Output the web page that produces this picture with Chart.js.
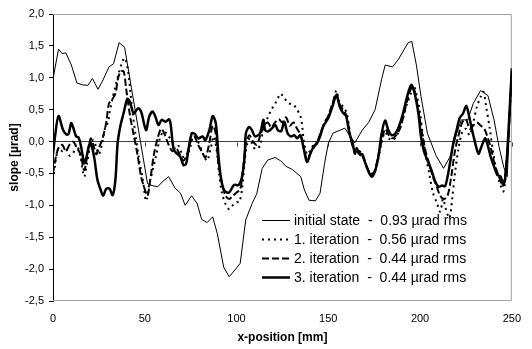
<!DOCTYPE html>
<html>
<head>
<meta charset="utf-8">
<script src="https://cdn.jsdelivr.net/npm/chart.js@4.4.0/dist/chart.umd.min.js"></script>
<style>
  html, body { margin: 0; padding: 0; background: #fff; }
  #wrap { width: 532px; height: 349px; position: relative; }
</style>
</head>
<body>
<div id="wrap"><canvas id="slope-chart"></canvas></div>
<script>
// slope profiles (x in mm, slope in µrad)
const initX = [0, 3, 5, 7, 10, 13, 16, 19, 21.5, 24.5, 27, 30.5, 33, 36, 39, 51.5, 54, 57, 60, 63, 66.5, 69.5, 72, 75.5, 78.5, 81, 84, 87, 89.5, 93, 96, 99.5, 102, 105, 108.5, 111, 114, 117, 121, 124, 127, 130.5, 135, 137, 139.5, 143, 145.5, 148, 150, 152.5, 159, 161.5, 164.5, 168.5, 172, 175.5, 179, 181, 185, 188, 193.5, 195.5, 198, 200.5, 204, 208.7, 212.8, 216.3, 220, 222.5, 226, 229, 233, 237, 240.3, 243, 245.6, 247.5, 250];
const initY = [0.98, 1.45, 1.38, 1.39, 1.2, 0.92, 0.89, 0.88, 0.99, 0.82, 0.95, 1.17, 1.22, 1.55, 1.48, -0.66, -0.69, -0.71, -0.62, -0.55, -0.73, -0.81, -1.0, -0.85, -0.97, -1.22, -1.27, -1.18, -1.44, -1.97, -2.12, -2.0, -1.91, -1.23, -0.97, -0.82, -0.42, -0.29, -0.25, -0.3, -0.39, -0.44, -0.55, -0.76, -0.92, -0.93, -0.81, -0.34, -0.03, 0.13, 0.21, 0.1, -0.02, 0.18, 0.3, 0.5, 0.97, 1.2, 1.17, 1.28, 1.55, 1.57, 1.2, 0.71, 0.13, -0.22, -0.42, -0.24, 0.13, 0.34, 0.34, 0.6, 0.8, 0.72, 0.34, -0.08, -0.4, -0.55, 1.08];

const it1X = [0, 1.5, 3, 5, 7, 9, 11, 13, 15, 17, 18.5, 20.5, 22, 23.5, 25, 27, 28.5, 30, 30.8, 32.2, 34, 35.8, 37.5, 39, 40.8, 43, 45, 47, 49, 50.7, 52.5, 54.3, 56, 57.8, 58.5, 60.5, 62.5, 64.9, 66.7, 68.5, 70.3, 72, 74.7, 76.5, 79, 82.4, 84, 86, 87.5, 89, 90.5, 92, 94, 96, 98, 100, 101.5, 103, 104.5, 106, 107.5, 109, 111, 113, 114.6, 117.2, 119, 120.8, 122.5, 124, 126, 128.6, 131, 133, 134.8, 135.8, 136.6, 138.4, 140, 142, 144, 146, 148, 150, 152.5, 154.4, 156, 158, 160, 161.5, 163, 165, 167, 169, 171, 173, 175, 177, 179, 181, 183, 185, 187, 189, 191, 193, 195, 196.5, 198, 200, 201.5, 203, 205, 207, 209, 211, 212.5, 214, 216, 217.5, 219, 221, 223, 225, 227, 229, 231, 233.2, 234.5, 236, 238, 240, 242, 244, 245.5, 247, 248.5, 250];
const it1Y = [-0.6, -0.3, -0.1, -0.15, -0.12, -0.22, -0.18, -0.05, -0.25, -0.55, -0.35, -0.03, 0.02, -0.08, -0.2, 0.0, 0.23, 0.3, 0.45, 0.65, 0.86, 1.07, 1.23, 1.31, 1.13, 0.55, 0.1, -0.3, -0.6, -0.93, -0.66, -0.45, -0.24, 0.0, 0.08, 0.16, 0.1, 0.0, -0.12, -0.07, -0.2, -0.28, -0.1, 0.08, 0.0, -0.24, -0.3, -0.1, 0.08, -0.1, -0.5, -0.8, -0.98, -1.06, -1.0, -0.95, -0.95, -0.75, -0.3, 0.0, 0.05, -0.08, -0.12, -0.05, 0.2, 0.39, 0.5, 0.58, 0.68, 0.75, 0.68, 0.6, 0.58, 0.5, 0.4, 0.24, 0.02, -0.2, -0.15, -0.05, 0.0, 0.15, 0.3, 0.4, 0.6, 0.8, 0.62, 0.55, 0.45, 0.2, -0.05, -0.1, -0.2, -0.25, -0.4, -0.52, -0.5, -0.3, -0.02, 0.15, 0.05, 0.02, 0.08, 0.2, 0.4, 0.6, 0.75, 0.88, 0.75, 0.45, 0.1, -0.2, -0.5, -0.8, -0.95, -1.1, -0.9, -1.05, -1.2, -0.9, -0.5, -0.1, 0.15, 0.2, 0.1, 0.3, 0.55, 0.71, 0.78, 0.55, 0.2, -0.2, -0.5, -0.7, -0.78, -0.4, 0.3, 1.1];

const it2X = [0, 1.5, 3, 5, 7, 9, 11, 13, 15, 17, 18.5, 20.5, 22, 23.5, 25, 27, 29, 30.5, 32, 34, 35.5, 37, 38.5, 40, 42, 44, 46, 48, 50, 51.5, 53, 55, 57, 59, 61, 63, 65, 67, 69, 71, 73, 75, 77, 79, 81, 83, 85, 87, 88.5, 90, 92, 94, 96, 98, 100, 102, 103.5, 105, 107, 109, 111, 113, 115, 117, 119, 121, 123, 125, 127, 129, 131, 133, 135, 137, 138.5, 140, 142, 144, 146, 148, 150, 152.5, 154.4, 156, 158, 160, 161.5, 163, 165, 167, 169, 171, 173, 175, 177, 179, 181, 183, 185, 187, 189, 191, 193, 195.5, 197, 199, 201, 203, 205, 207, 209, 211, 213, 215, 217, 219, 221, 223, 225, 227, 229, 231, 233, 235, 237, 239, 241, 243, 245, 246.5, 248, 250];
const it2Y = [-0.5, -0.25, -0.1, -0.05, -0.15, -0.05, 0.0, -0.1, -0.2, -0.45, -0.25, 0.05, -0.05, -0.2, -0.1, 0.05, 0.3, 0.6, 0.65, 0.75, 1.0, 1.1, 1.1, 0.8, 0.4, 0.1, -0.2, -0.55, -0.75, -0.85, -0.6, -0.2, 0.05, 0.2, 0.1, -0.05, -0.15, -0.1, -0.2, -0.3, -0.2, 0.0, 0.08, -0.05, -0.15, -0.25, -0.05, 0.25, 0.15, -0.3, -0.65, -0.85, -0.9, -0.85, -0.8, -0.75, -0.45, -0.05, 0.1, 0.0, -0.05, 0.1, 0.25, 0.3, 0.22, 0.3, 0.35, 0.3, 0.38, 0.25, 0.3, 0.2, 0.1, -0.15, -0.3, -0.2, -0.1, 0.0, 0.15, 0.3, 0.4, 0.62, 0.75, 0.6, 0.5, 0.4, 0.15, -0.05, -0.15, -0.15, -0.25, -0.4, -0.5, -0.48, -0.25, 0.0, 0.2, 0.1, 0.05, 0.1, 0.2, 0.4, 0.65, 0.85, 0.8, 0.5, 0.15, -0.15, -0.35, -0.55, -0.7, -0.85, -0.9, -0.85, -0.55, -0.15, 0.1, 0.3, 0.35, 0.2, 0.25, 0.3, 0.25, 0.2, 0.05, -0.15, -0.4, -0.55, -0.7, -0.5, 0.0, 1.1];

const it3X = [0, 1.2, 3, 5.5, 7.3, 8.5, 9.9, 11, 12.6, 14, 15.3, 17.1, 18.3, 19.7, 20.5, 22.4, 24.2, 26, 27.3, 29, 30.8, 32.5, 34, 35.2, 36.6, 38.4, 40.5, 41.8, 44, 46.3, 48, 50.7, 52.4, 54.3, 55.8, 57.5, 59.2, 61.4, 63.1, 64, 65.8, 67.6, 69.4, 71.1, 72.5, 73.8, 75.6, 77.3, 79.1, 81.6, 83, 85.2, 87, 88.7, 90.2, 91.4, 93.2, 95.9, 98.6, 101.2, 103, 104.4, 105.1, 106.9, 108.4, 110.1, 112.8, 114.6, 115.6, 117.2, 119.4, 121.1, 122.5, 124.3, 126, 127.8, 129.6, 131.5, 133, 134.8, 136.6, 138.4, 140.2, 142, 143.8, 145.5, 147.3, 150, 152.6, 154.4, 156.2, 158, 159.7, 161.5, 163.3, 164.5, 165.5, 166.7, 168.5, 170.2, 172.4, 173.8, 175.6, 177.3, 179.1, 180.9, 182.7, 184.5, 186.6, 188.4, 190.7, 193, 195.2, 197, 199.1, 200.5, 202.2, 204, 206.2, 208.3, 210.1, 212, 213.6, 215, 216.3, 218.1, 219.9, 221.6, 223.4, 225.2, 226.4, 227.9, 229.6, 231.8, 233.2, 235.4, 236.8, 238.5, 240.3, 242.1, 243.9, 245.3, 246.5, 247.8, 249.2, 250];
const it3Y = [-0.2, 0.1, 0.4, 0.18, 0.11, 0.12, 0.29, 0.22, 0.08, 0.06, -0.08, -0.34, -0.24, -0.05, -0.02, -0.24, -0.6, -0.76, -0.85, -0.74, -0.74, -0.84, -0.6, -0.03, 0.23, 0.44, 0.67, 0.63, 0.44, 0.52, 0.47, 0.18, 0.39, 0.47, 0.39, 0.26, 0.34, 0.31, 0.35, 0.29, -0.13, -0.19, -0.24, -0.37, -0.35, -0.13, 0.13, 0.12, 0.05, 0.08, 0.02, 0.18, 0.4, 0.29, -0.24, -0.55, -0.76, -0.8, -0.68, -0.68, -0.55, -0.24, 0.13, 0.23, 0.18, 0.08, 0.13, 0.34, 0.18, 0.16, 0.21, 0.26, 0.18, 0.16, 0.31, 0.13, 0.08, 0.1, 0.05, 0.1, -0.11, -0.32, -0.19, -0.08, -0.03, 0.08, 0.24, 0.37, 0.58, 0.73, 0.55, 0.45, 0.4, 0.13, -0.03, -0.19, -0.1, -0.19, -0.2, -0.34, -0.5, -0.55, -0.45, -0.24, 0.13, 0.33, 0.18, 0.1, 0.13, 0.23, 0.44, 0.71, 0.89, 0.76, 0.44, 0.08, -0.16, -0.29, -0.45, -0.63, -0.71, -0.69, -0.7, -0.55, -0.34, -0.03, 0.18, 0.37, 0.44, 0.56, 0.44, 0.24, 0.03, -0.19, -0.1, 0.05, -0.05, -0.24, -0.39, -0.52, -0.55, -0.68, -0.55, -0.03, 0.71, 1.15];

const seriesLabels = [
  'initial state  -  0.93 µrad rms',
  '1. iteration  -  0.56 µrad rms',
  '2. iteration  -  0.44 µrad rms',
  '3. iteration  -  0.44 µrad rms'
];

function pts(xs, ys) {
  return xs.map((x, i) => ({ x: x, y: ys[i] }));
}

const FONT = "'Liberation Sans', Arial, sans-serif";

// gray frame round the plot plus the tick marks on the zero axis
const framePlugin = {
  id: 'frame',
  beforeDatasetsDraw(chart) {
    const { ctx, chartArea: a, scales } = chart;
    ctx.save();
    ctx.strokeStyle = '#a0a0a0';
    ctx.lineWidth = 1;
    ctx.beginPath();
    ctx.moveTo(a.left, a.top + 0.5);
    ctx.lineTo(a.right - 0.5, a.top + 0.5);
    ctx.lineTo(a.right - 0.5, a.bottom - 0.5);
    ctx.lineTo(a.left, a.bottom - 0.5);
    ctx.stroke();
    const y0 = Math.round(scales.y.getPixelForValue(0)) + 0.5;
    ctx.strokeStyle = '#404040';
    ctx.beginPath();
    for (let v = 0; v <= 250; v += 50) {
      const px = Math.round(scales.x.getPixelForValue(v)) + 0.5;
      ctx.moveTo(px, y0);
      ctx.lineTo(px, y0 + 4);
    }
    ctx.stroke();
    ctx.restore();
  }
};

// legend sitting inside the plot, lower right
const legendPlugin = {
  id: 'insideLegend',
  afterDraw(chart) {
    const { ctx, chartArea: a } = chart;
    const x0 = a.left + 209;
    const y0 = a.top + 206;
    ctx.save();
    ctx.font = '14px ' + FONT;
    ctx.textBaseline = 'middle';
    ctx.fillStyle = '#000';
    chart.data.datasets.forEach((ds, i) => {
      const y = y0 + i * 19;
      ctx.strokeStyle = '#000';
      ctx.lineWidth = ds.borderWidth;
      ctx.setLineDash(ds.borderDash || []);
      ctx.beginPath();
      ctx.moveTo(x0, y + 0.5);
      ctx.lineTo(x0 + 28, y + 0.5);
      ctx.stroke();
      ctx.setLineDash([]);
      ctx.fillText(ds.label, x0 + 32, y + 1);
    });
    ctx.restore();
  }
};

const ctx1 = document.getElementById('slope-chart');
const slopeChart = new Chart(ctx1, {
  type: 'line',
  data: {
    datasets: [
      {
        label: seriesLabels[0],
        data: pts(initX, initY),
        borderColor: '#000',
        borderWidth: 1,
        pointRadius: 0,
        tension: 0
      },
      {
        label: seriesLabels[1],
        data: pts(it1X, it1Y),
        borderColor: '#000',
        borderWidth: 2,
        borderDash: [2, 4],
        pointRadius: 0,
        tension: 0.3
      },
      {
        label: seriesLabels[2],
        data: pts(it2X, it2Y),
        borderColor: '#000',
        borderWidth: 2,
        borderDash: [7, 3],
        pointRadius: 0,
        tension: 0.3
      },
      {
        label: seriesLabels[3],
        data: pts(it3X, it3Y),
        borderColor: '#000',
        borderWidth: 2.5,
        pointRadius: 0,
        tension: 0.3
      }
    ]
  },
  options: {
    responsive: true,
    maintainAspectRatio: false,
    animation: false,
    layout: { padding: { top: 14, right: 10, left: 0, bottom: 0 } },
    plugins: {
      legend: { display: false },
      tooltip: { enabled: false }
    },
    scales: {
      x: {
        type: 'linear',
        min: 0,
        max: 250,
        afterFit: (s) => { s.height = 48; },
        grid: { display: false, drawTicks: false },
        border: { display: false },
        ticks: { stepSize: 50, color: '#000', padding: 11, font: { family: FONT, size: 11 } },
        title: {
          display: true,
          text: 'x-position [mm]',
          color: '#000',
          font: { family: FONT, size: 12, weight: 'bold' },
          padding: { top: 0, bottom: 4 }
        }
      },
      y: {
        min: -2.5,
        max: 2,
        afterFit: (s) => { s.width = 53; },
        grid: {
          color: (c) => (c.tick && c.tick.value === 0 ? '#404040' : 'rgba(0,0,0,0)'),
          tickColor: '#000',
          tickLength: 4,
          drawTicks: true
        },
        border: { display: true, color: '#000', width: 1 },
        ticks: {
          stepSize: 0.5,
          color: '#000',
          padding: 5,
          font: { family: FONT, size: 11 },
          callback: (v) => v.toFixed(1).replace('.', ',')
        },
        title: {
          display: true,
          text: 'slope [µrad]',
          color: '#000',
          font: { family: FONT, size: 12, weight: 'bold' },
          padding: { top: 7, bottom: 0 }
        }
      }
    }
  },
  plugins: [framePlugin, legendPlugin]
});
</script>
</body>
</html>
